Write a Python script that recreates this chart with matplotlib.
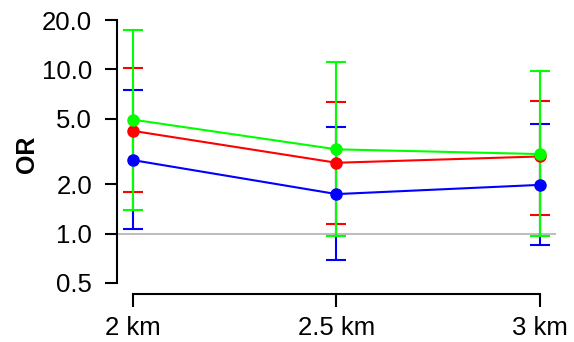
import numpy as np
import matplotlib
matplotlib.use("Agg")
import matplotlib.pyplot as plt

plt.rcParams['font.family'] = ['Liberation Sans', 'DejaVu Sans']

# distances (km) and labels
dist = [2, 2.5, 3]
dist_labels = ['2 km', '2.5 km', '3 km']

# odds ratios with 95% CI, one series per colour
or_blue = [2.8, 1.74, 1.98]
lo_blue = [1.06, 0.69, 0.85]
hi_blue = [7.5, 4.47, 4.67]

or_red = [4.22, 2.70, 2.95]
lo_red = [1.78, 1.15, 1.30]
hi_red = [10.2, 6.3, 6.43]

or_green = [4.94, 3.26, 3.05]
lo_green = [1.40, 0.96, 0.96]
hi_green = [17.3, 11.1, 9.8]

yticks = [0.5, 1.0, 2.0, 5.0, 10.0, 20.0]

fig = plt.figure(figsize=(5.74, 3.42), dpi=100)
ax = fig.add_axes([117/574, 1 - 293.5/342, 439/574, 284/342])
ax.set_yscale('log')

ax.axhline(1.0, color='#BEBEBE', lw=1.5, zorder=1)

series = [(or_blue, lo_blue, hi_blue, '#0000FF'),
          (or_red, lo_red, hi_red, '#FF0000'),
          (or_green, lo_green, hi_green, '#00FF00')]
for vals, lo, hi, col in series:
    vals = np.array(vals)
    err = [vals - np.array(lo), np.array(hi) - vals]
    ax.errorbar(dist, vals, yerr=err, color=col, lw=1.5, elinewidth=1.5,
                capsize=7.5, capthick=1.5, marker='o', markersize=8, zorder=2)

lo_y, hi_y = 0.5, 20.0
span = np.log10(hi_y) - np.log10(lo_y)
ax.set_ylim(10 ** (np.log10(lo_y) - 0.04 * span), 10 ** (np.log10(hi_y) + 0.04 * span))
ax.set_xlim(2 - 0.04, 3 + 0.04)

ax.set_yticks(yticks)
ax.set_yticklabels(['%.1f' % v for v in yticks])
ax.yaxis.set_minor_locator(matplotlib.ticker.NullLocator())
ax.set_xticks(dist)
ax.set_xticklabels(dist_labels)

for s in ['top', 'right']:
    ax.spines[s].set_visible(False)
ax.spines['left'].set_bounds(lo_y, hi_y)
ax.spines['bottom'].set_bounds(2, 3)
ax.spines['left'].set_linewidth(1.5)
ax.spines['bottom'].set_linewidth(1.5)
ax.tick_params(axis='both', length=9, width=1.5, labelsize=18.5)
ax.tick_params(axis='y', pad=9)
ax.tick_params(axis='x', pad=7)

fig.text(27/574, 1 - 154/342, 'OR', rotation=90, ha='center', va='center',
         fontsize=18, fontweight='bold')

fig.savefig('out.png', dpi=100)
